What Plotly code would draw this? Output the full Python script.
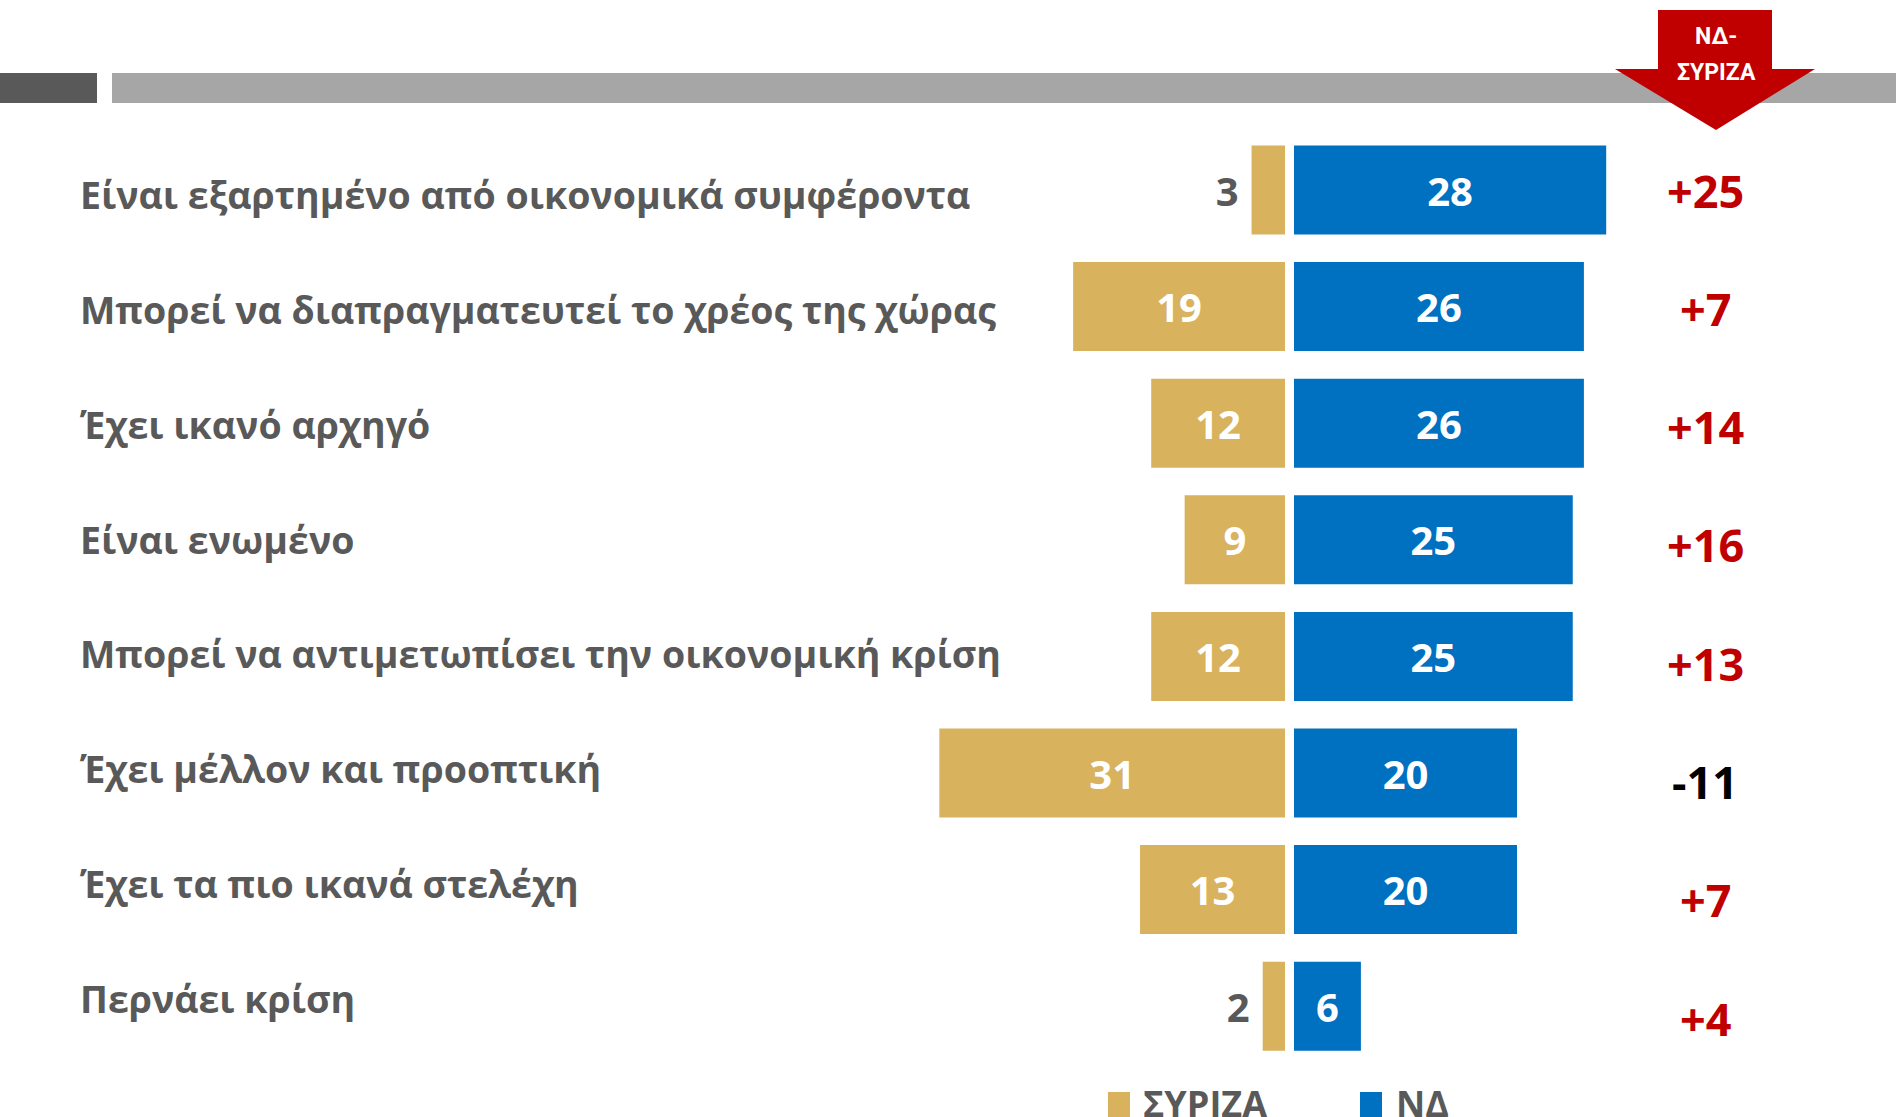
import plotly.graph_objects as go

W, H = 1896, 1117

categories = [
    "Είναι εξαρτημένο από οικονομικά συμφέροντα",
    "Μπορεί να διαπραγματευτεί το χρέος της χώρας",
    "Έχει ικανό αρχηγό",
    "Είναι ενωμένο",
    "Μπορεί να αντιμετωπίσει την οικονομική κρίση",
    "Έχει μέλλον και προοπτική",
    "Έχει τα πιο ικανά στελέχη",
    "Περνάει κρίση",
]
syriza = [3, 19, 12, 9, 12, 31, 13, 2]
nd = [28, 26, 26, 25, 25, 20, 20, 6]
diff_labels = ["+25", "+7", "+14", "+16", "+13", "-11", "+7", "+4"]
series_names = ["ΣΥΡΙΖΑ", "ΝΔ"]
header_text = ["ΝΔ-", "ΣΥΡΙΖΑ"]

GOLD = "#D9B25E"
BLUE = "#0070C0"
GRAY_TXT = "#595959"
RED = "#C00000"
FONT = "Open Sans"

# axis geometry (pixel -> data)
zero_px = 1289.5
px_per_unit = 11.15
x_range = [-zero_px / px_per_unit, (W - zero_px) / px_per_unit]
row0_px, row_step = 190.0, 116.6
y_range = [(H - row0_px) / row_step, -row0_px / row_step]
half_gap = 4.5 / px_per_unit

idx = list(range(len(categories)))


def px2py(py):
    return 1 - py / H


def px2px(px):
    return px / W


def small(v):
    return v < 5


fig = go.Figure()
fig.add_trace(go.Bar(
    y=idx, x=[-v for v in syriza], base=[-half_gap] * len(idx), orientation="h",
    width=0.763, marker=dict(color=GOLD, line=dict(width=0)), name=series_names[0],
    text=[(str(v) + "\u2005") if small(v) else str(v) for v in syriza],
    textposition=["outside" if small(v) else "inside" for v in syriza],
    insidetextanchor="middle",
    textfont=dict(family=FONT, size=40, weight="bold",
                  color=[GRAY_TXT if small(v) else "white" for v in syriza]),
    cliponaxis=False, showlegend=False, hoverinfo="skip",
))
fig.add_trace(go.Bar(
    y=idx, x=nd, base=[half_gap] * len(idx), orientation="h",
    width=0.763, marker=dict(color=BLUE, line=dict(width=0)), name=series_names[1],
    text=[str(v) for v in nd], textposition="inside", insidetextanchor="middle",
    textfont=dict(family=FONT, size=40, weight="bold", color="white"),
    cliponaxis=False, showlegend=False, hoverinfo="skip",
))

annotations = []
n = len(categories)
for i, cat in enumerate(categories):
    lab_px = row0_px + i * row_step + 5 - 13.0 / (n - 1) * i
    annotations.append(dict(
        x=px2px(78), xref="paper", xanchor="left",
        y=px2py(lab_px), yref="paper", yanchor="middle",
        text=cat, showarrow=False,
        font=dict(family=FONT, size=37.5, weight="bold", color=GRAY_TXT),
    ))
    d_px = row0_px + i * 118.3
    annotations.append(dict(
        x=px2px(1705), xref="paper", xanchor="center",
        y=px2py(d_px), yref="paper", yanchor="middle",
        text=diff_labels[i], showarrow=False,
        font=dict(family=FONT, size=45, weight="bold",
                  color=RED if diff_labels[i].startswith("+") else "black"),
    ))

# header arrow texts
HFONT = dict(family="Liberation Sans Narrow, Roboto", size=23, weight="bold", color="white")
annotations.append(dict(x=px2px(1716), xref="paper", y=px2py(36), yref="paper",
                        xanchor="center", yanchor="middle", text=header_text[0], showarrow=False,
                        font=HFONT))
annotations.append(dict(x=px2px(1716), xref="paper", y=px2py(73), yref="paper",
                        xanchor="center", yanchor="middle", text=header_text[1], showarrow=False,
                        font=HFONT))

# legend texts
annotations.append(dict(x=px2px(1141), xref="paper", y=px2py(1103), yref="paper",
                        xanchor="left", yanchor="middle", text=series_names[0], showarrow=False,
                        font=dict(family=FONT, size=36, weight="bold", color=GRAY_TXT)))
annotations.append(dict(x=px2px(1394), xref="paper", y=px2py(1103), yref="paper",
                        xanchor="left", yanchor="middle", text=series_names[1], showarrow=False,
                        font=dict(family=FONT, size=36, weight="bold", color=GRAY_TXT)))


def rect(x0, y0, x1, y1, color):
    return dict(type="rect", xref="paper", yref="paper",
                x0=px2px(x0), x1=px2px(x1), y0=px2py(y0), y1=px2py(y1),
                fillcolor=color, line=dict(width=0), layer="above")


arrow_pts = [(1658, 10), (1772, 10), (1772, 69), (1815, 69), (1716, 130), (1615, 69), (1658, 69)]
path = "M " + " L ".join(f"{px2px(x):.5f},{px2py(y):.5f}" for x, y in arrow_pts) + " Z"

shapes = [
    rect(0, 73, 97, 103, "#595959"),
    rect(112, 73, W, 103, "#A6A6A6"),
    dict(type="path", xref="paper", yref="paper", path=path,
         fillcolor=RED, line=dict(width=0), layer="above"),
    rect(1108, 1092, 1130, 1120, GOLD),
    rect(1360, 1092, 1382, 1120, BLUE),
]

fig.update_layout(
    width=W, height=H,
    margin=dict(l=0, r=0, t=0, b=0, pad=0, autoexpand=False),
    paper_bgcolor="white", plot_bgcolor="white",
    barmode="overlay",
    xaxis=dict(range=x_range, visible=False, fixedrange=True),
    yaxis=dict(range=y_range, visible=False, fixedrange=True),
    annotations=annotations, shapes=shapes,
    uniformtext=dict(mode=False),
)

fig.write_html("out.html", config={"displayModeBar": False},
               post_script="document.body.style.margin='0';document.body.style.overflow='hidden';")
